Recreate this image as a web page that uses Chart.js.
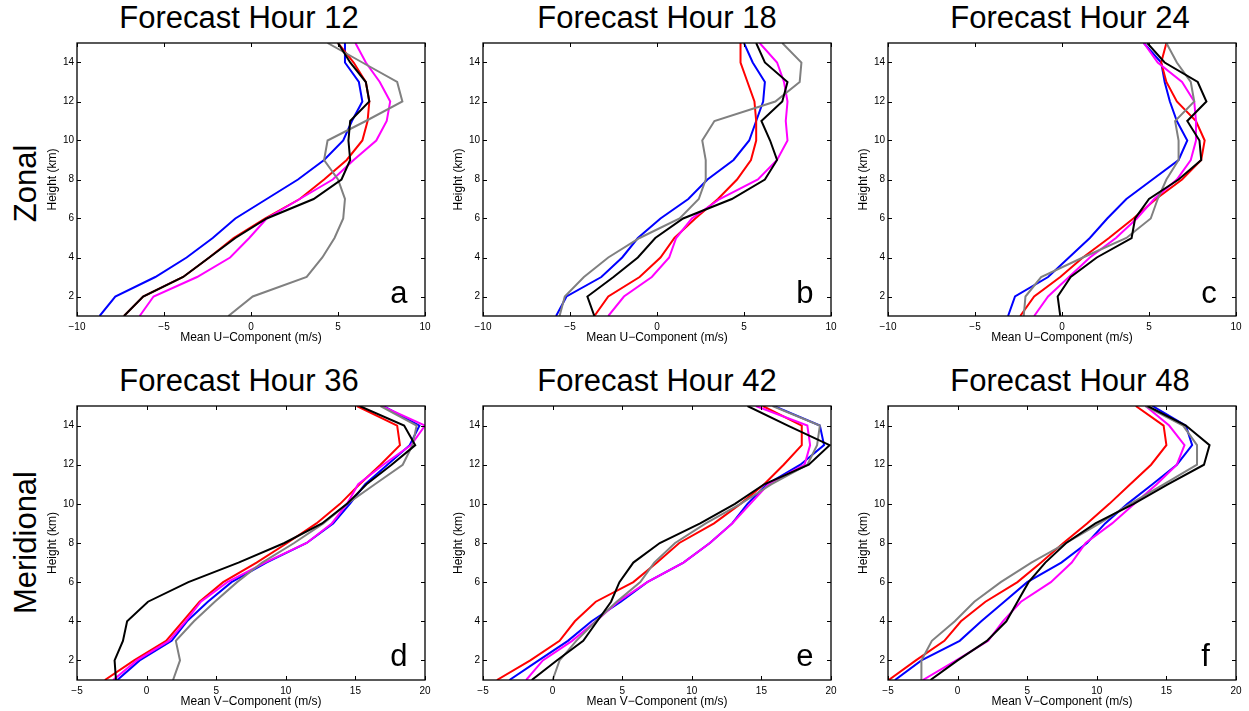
<!DOCTYPE html>
<html>
<head>
<meta charset="utf-8">
<script src="https://cdn.jsdelivr.net/npm/chart.js@4.4.0/dist/chart.umd.min.js"></script>
<style>
    body { margin: 0; width: 1249px; height: 711px; overflow: hidden; position: relative; background: #fff;
           font-family: 'Liberation Sans', Arial, Helvetica, sans-serif; color: #000; }
    canvas { position: absolute; }
    .title { position: absolute; width: 400px; text-align: center; font-size: 31px; line-height: 31px; white-space: nowrap; }
    .rowlabel { position: absolute; width: 240px; height: 31px; text-align: center; font-size: 31px; line-height: 31px;
                white-space: nowrap; transform: rotate(-90deg); }
</style>
</head>
<body>

<div class="rowlabel" style="left:-95px; top:168px;">Zonal</div>
<div class="rowlabel" style="left:-95px; top:527px;">Meridional</div>

<script>
// heights of the profile levels (km)
const heights = [1, 2, 3, 4, 5, 6, 7, 8, 9, 10, 11, 12, 13, 14, 15];

const uTicks = [-10, -5, 0, 5, 10];
const vTicks = [-5, 0, 5, 10, 15, 20];
const heightTicks = [2, 4, 6, 8, 10, 12, 14];

// zonal wind, forecast hour 12
const u12Blue    = [-8.7, -7.8, -5.5, -3.7, -2.2, -0.9, 0.9, 2.7, 4.2, 5.3, 5.8, 6.4, 6.2, 5.4, 5.4];
const u12Red     = [-7.3, -6.2, -3.9, -2.4, -1.0, 0.8, 2.8, 4.2, 5.5, 6.4, 6.7, 6.8, 6.6, 5.9, 5.0];
const u12Magenta = [-6.4, -5.6, -3.1, -1.2, -0.1, 0.9, 2.8, 4.7, 5.9, 7.2, 7.8, 8.0, 7.4, 6.6, 6.0];
const u12Gray    = [-1.3, 0.1, 3.2, 4.1, 4.8, 5.3, 5.4, 5.0, 4.2, 4.4, 6.6, 8.7, 8.4, 6.4, 4.4];
const u12Black   = [-7.3, -6.2, -3.9, -2.4, -0.9, 0.9, 3.6, 5.2, 5.7, 5.6, 5.7, 6.8, 6.6, 5.7, 5.0];

// zonal wind, forecast hour 18
const u18Blue    = [-5.8, -5.2, -3.2, -2.0, -1.1, 0.2, 1.8, 2.9, 4.4, 5.3, 5.7, 6.1, 6.2, 5.5, 5.0];
const u18Red     = [-3.6, -2.8, -1.0, 0.2, 1.0, 2.2, 3.5, 4.6, 5.4, 5.7, 5.7, 5.6, 5.2, 4.8, 4.8];
const u18Magenta = [-2.8, -1.9, -0.3, 0.7, 1.1, 2.0, 3.6, 5.8, 6.9, 7.5, 7.4, 7.5, 7.3, 6.9, 5.9];
const u18Gray    = [-5.6, -5.3, -4.2, -2.8, -1.0, 1.3, 2.4, 2.8, 2.8, 2.6, 3.3, 6.8, 8.2, 8.3, 7.2];
const u18Black   = [-3.6, -4.0, -2.5, -1.1, -0.1, 1.5, 4.3, 6.2, 6.9, 6.5, 6.0, 7.2, 7.5, 6.2, 5.7];

// zonal wind, forecast hour 24
const u24Blue    = [-3.1, -2.7, -0.8, 0.4, 1.6, 2.6, 3.7, 5.2, 6.7, 7.2, 6.6, 6.2, 5.9, 5.7, 4.7];
const u24Red     = [-2.4, -1.6, -0.1, 1.2, 2.7, 4.1, 5.4, 6.9, 8.0, 8.2, 7.7, 6.6, 6.0, 5.7, 6.0];
const u24Magenta = [-1.6, -0.8, 0.4, 1.6, 3.1, 4.3, 5.3, 6.6, 7.4, 7.7, 7.7, 7.6, 6.9, 5.5, 4.7];
const u24Gray    = [-2.2, -2.1, -1.2, 1.2, 3.7, 5.1, 5.5, 6.0, 6.7, 6.7, 6.5, 7.6, 7.4, 6.6, 6.0];
const u24Black   = [-0.1, -0.25, 0.5, 2.0, 4.0, 4.2, 5.0, 6.7, 8.0, 7.9, 7.2, 8.3, 7.8, 5.9, 4.9];

// meridional wind, forecast hour 36
const v36Blue    = [-2.1, -0.5, 1.8, 2.9, 4.4, 6.1, 8.6, 11.5, 13.4, 14.6, 15.7, 17.3, 18.9, 19.6, 17.0];
const v36Red     = [-3.0, -0.9, 1.4, 2.6, 3.8, 5.5, 7.9, 10.1, 12.2, 13.9, 15.3, 16.8, 18.2, 18.0, 15.1];
const v36Magenta = [-2.4, -0.7, 1.6, 2.8, 3.9, 5.8, 8.5, 11.5, 13.3, 14.4, 15.2, 17.0, 19.0, 20.0, 16.9];
const v36Gray    = [1.9, 2.4, 2.1, 3.4, 4.9, 6.5, 8.3, 10.6, 12.7, 14.4, 16.4, 18.4, 19.1, 19.4, 16.8];
const v36Black   = [-2.2, -2.3, -1.7, -1.4, 0.1, 3.0, 6.6, 9.9, 12.6, 14.4, 15.8, 17.6, 19.3, 18.5, 15.3];

// meridional wind, forecast hour 42
const v42Blue    = [-3.1, -1.0, 1.1, 2.8, 4.9, 6.8, 9.4, 11.3, 12.9, 14.0, 15.4, 17.8, 19.5, 19.2, 15.9];
const v42Red     = [-4.0, -1.6, 0.5, 1.6, 3.1, 5.8, 7.5, 9.1, 11.6, 13.5, 15.2, 16.6, 17.9, 17.9, 15.1];
const v42Magenta = [-1.9, -0.7, 1.4, 3.1, 4.7, 6.8, 9.4, 11.3, 12.9, 14.2, 15.5, 18.1, 18.5, 18.3, 14.6];
const v42Gray    = [0.0, 0.5, 1.7, 3.1, 4.6, 6.3, 7.3, 8.8, 11.0, 13.5, 15.7, 18.3, 19.0, 19.2, 15.8];
const v42Black   = [-1.5, 0.3, 2.2, 3.2, 4.2, 4.8, 5.8, 7.7, 10.6, 13.1, 15.2, 18.4, 19.9, 16.9, 14.0];

// meridional wind, forecast hour 48
const v48Blue    = [-4.5, -2.6, 0.15, 1.7, 3.35, 5.0, 7.45, 9.3, 10.6, 12.2, 14.0, 15.75, 16.85, 16.4, 14.0];
const v48Red     = [-4.95, -3.0, -0.95, 0.24, 2.0, 4.3, 6.0, 7.6, 9.3, 10.9, 12.4, 13.9, 15.0, 14.8, 12.8];
const v48Magenta = [-2.5, -0.1, 2.2, 3.25, 4.55, 6.7, 8.2, 9.2, 11.1, 12.7, 14.3, 15.75, 16.3, 15.2, 13.5];
const v48Gray    = [-2.6, -2.6, -1.85, -0.2, 1.2, 3.1, 5.3, 7.8, 10.2, 12.4, 14.8, 17.2, 17.2, 16.2, 13.5];
const v48Black   = [-1.95, 0.0, 2.1, 3.5, 4.3, 5.1, 6.3, 7.8, 9.9, 12.65, 15.1, 17.7, 18.1, 16.4, 13.65];

// first entry ends up on top
const lineColors = ['#000000', '#808080', '#ff00ff', '#ff0000', '#0000ff'];

const panels = [
    { letter: 'a', hour: 12, series: [u12Black, u12Gray, u12Magenta, u12Red, u12Blue], comp: 'U' },
    { letter: 'b', hour: 18, series: [u18Black, u18Gray, u18Magenta, u18Red, u18Blue], comp: 'U' },
    { letter: 'c', hour: 24, series: [u24Black, u24Gray, u24Magenta, u24Red, u24Blue], comp: 'U' },
    { letter: 'd', hour: 36, series: [v36Black, v36Gray, v36Magenta, v36Red, v36Blue], comp: 'V' },
    { letter: 'e', hour: 42, series: [v42Black, v42Gray, v42Magenta, v42Red, v42Blue], comp: 'V' },
    { letter: 'f', hour: 48, series: [v48Black, v48Gray, v48Magenta, v48Red, v48Blue], comp: 'V' }
];

// plot boxes on the page
const colLeft = [77, 483, 888];
const colRight = [425, 831, 1236];
const colTitleX = [239, 657, 1070];
const rowTop = [43, 406];
const rowBottom = [316, 680];
const rowTitleTop = [2, 365];

const AXIS_W = 37;
const AXIS_H = 34;
const PAD = 6;

Chart.defaults.font.family = "'Liberation Sans', Arial, Helvetica, sans-serif";
Chart.defaults.color = '#000';

function tickText(v) {
    return v < 0 ? '\u2212' + Math.abs(v) : String(v);
}

// fixed axis sizes, no extra room for overhanging end labels
function fixX(s) {
    s.height = AXIS_H;
    s.paddingLeft = s.paddingRight = s.paddingTop = s.paddingBottom = 0;
}
function fixY(s) {
    s.width = AXIS_W;
    s.paddingLeft = s.paddingRight = s.paddingTop = s.paddingBottom = 0;
}

// box around the axes, inward ticks on all four sides, and the panel letter
const frameTicks = {
    id: 'frameTicks',
    afterDatasetsDraw(chart, args, opts) {
        const { ctx, chartArea: { left, right, top, bottom } } = chart;
        const xs = chart.scales.x;
        const ys = chart.scales.y;
        const len = 4;
        ctx.save();
        ctx.strokeStyle = '#000';
        ctx.lineWidth = 1;
        ctx.beginPath();
        xs.ticks.forEach(t => {
            const px = Math.round(xs.getPixelForValue(t.value)) + 0.5;
            ctx.moveTo(px, bottom); ctx.lineTo(px, bottom - len);
            ctx.moveTo(px, top); ctx.lineTo(px, top + len);
        });
        ys.ticks.forEach(t => {
            const py = Math.round(ys.getPixelForValue(t.value)) + 0.5;
            ctx.moveTo(left, py); ctx.lineTo(left + len, py);
            ctx.moveTo(right, py); ctx.lineTo(right - len, py);
        });
        ctx.stroke();
        ctx.lineWidth = 1.3;
        ctx.strokeRect(left, top, right - left, bottom - top);

        ctx.font = "31px 'Liberation Sans', Arial, sans-serif";
        ctx.fillStyle = '#000';
        ctx.textBaseline = 'alphabetic';
        ctx.textAlign = 'left';
        ctx.fillText(opts.letter, left + 0.9 * (right - left), ys.getPixelForValue(2) + 6);
        ctx.restore();
    }
};

panels.forEach((p, i) => {
    const col = i % 3;
    const row = Math.floor(i / 3);
    const plotW = colRight[col] - colLeft[col];
    const plotH = rowBottom[row] - rowTop[row];

    const title = document.createElement('div');
    title.className = 'title';
    title.style.left = (colTitleX[col] - 200) + 'px';
    title.style.top = rowTitleTop[row] + 'px';
    title.textContent = 'Forecast Hour ' + p.hour;
    document.body.appendChild(title);

    const canvas = document.createElement('canvas');
    canvas.width = AXIS_W + plotW + PAD;
    canvas.height = PAD + plotH + AXIS_H;
    canvas.style.left = (colLeft[col] - AXIS_W) + 'px';
    canvas.style.top = (rowTop[row] - PAD) + 'px';
    document.body.appendChild(canvas);

    const xTicks = p.comp === 'U' ? uTicks : vTicks;

    new Chart(canvas.getContext('2d'), {
        type: 'line',
        data: {
            datasets: p.series.map((vals, k) => ({
                data: vals.map((v, j) => ({ x: v, y: heights[j] })),
                borderColor: lineColors[k],
                borderWidth: 2,
                pointRadius: 0,
                tension: 0,
                fill: false
            }))
        },
        options: {
            responsive: false,
            animation: false,
            devicePixelRatio: 1,
            events: [],
            layout: { padding: { top: PAD, right: PAD, left: 0, bottom: 0 } },
            plugins: {
                legend: { display: false },
                tooltip: { enabled: false },
                frameTicks: { letter: p.letter }
            },
            scales: {
                x: {
                    type: 'linear',
                    min: xTicks[0],
                    max: xTicks[xTicks.length - 1],
                    afterBuildTicks: s => { s.ticks = xTicks.map(v => ({ value: v })); },
                    afterFit: fixX,
                    grid: { display: false, drawTicks: false },
                    border: { display: false },
                    ticks: { font: { size: 10 }, padding: 5, maxRotation: 0, callback: tickText },
                    title: {
                        display: true,
                        text: 'Mean ' + p.comp + '\u2212Component (m/s)',
                        font: { size: 12 },
                        padding: { top: 0, bottom: 5 }
                    }
                },
                y: {
                    type: 'linear',
                    min: 1,
                    max: 15,
                    afterBuildTicks: s => { s.ticks = heightTicks.map(v => ({ value: v })); },
                    afterFit: fixY,
                    grid: { display: false, drawTicks: false },
                    border: { display: false },
                    ticks: { font: { size: 10 }, padding: 3, callback: tickText },
                    title: {
                        display: true,
                        text: 'Height (km)',
                        font: { size: 12 },
                        padding: { top: 5.5, bottom: 0 }
                    }
                }
            }
        },
        plugins: [frameTicks]
    });
});
</script>
</body>
</html>
